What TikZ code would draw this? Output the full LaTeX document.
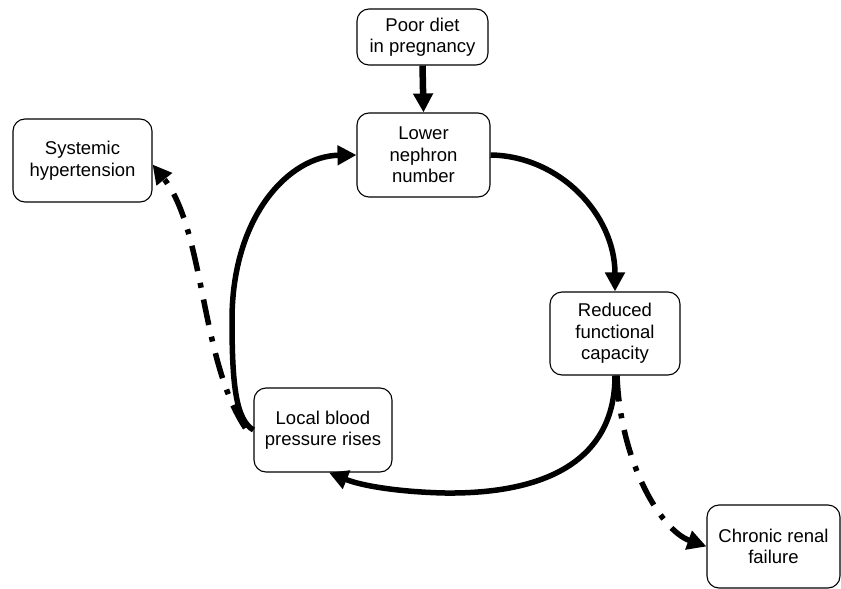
\documentclass[tikz,border=0pt]{standalone}
\usepackage{fontspec}
\setmainfont{Liberation Sans}
\usetikzlibrary{arrows.meta}
\begin{document}
\begin{tikzpicture}[x=1pt,y=-1pt,
  box/.style={draw, line width=1.1pt, rounded corners=12pt, align=center, inner sep=2pt,
    font=\fontsize{18.5}{21.5}\selectfont},
  flow/.style={line width=5.5pt, -{Triangle[length=19pt,width=19pt]}},
  dashdot/.style={line width=5.5pt, dash pattern=on 26pt off 12pt on 5pt off 12pt, -{Triangle[length=19pt,width=19pt]}}]
\useasboundingbox (0,0) rectangle (841,589);
\node[box, minimum width=131pt, minimum height=56pt] (poor) at (422.5,37) {Poor diet\\in pregnancy};
\node[box, minimum width=133pt, minimum height=84pt] (lower) at (423.5,155) {Lower\\nephron\\number};
\node[box, minimum width=139pt, minimum height=83pt] (sys) at (82.5,160.5) {Systemic\\hypertension};
\node[box, minimum width=138pt, minimum height=84pt] (local) at (323,430) {Local blood\\pressure rises};
\node[box, minimum width=130pt, minimum height=83pt] (red) at (615,333.5) {Reduced\\functional\\capacity};
\node[box, minimum width=133pt, minimum height=83pt] (crf) at (773.5,546.5) {Chronic renal\\failure};

\draw[flow, line width=6.5pt] (poor.south) -- (lower.north);
\draw[flow] (lower.east) .. controls (560,156) and (615,215) .. (red.north);
\draw[flow] (red.south) .. controls (615,470) and (530,494) .. (445,493)
  .. controls (400,492) and (362,486) .. ([xshift=6pt]local.south);
\draw[flow] (local.west) .. controls (236,420) and (232,385) .. (232,320)
  .. controls (232,215) and (290,156) .. (lower.west);
\draw[dashdot] ([xshift=-8pt,yshift=2pt]local.west) .. controls (200,360) and (205,230) .. ([yshift=-4pt]sys.east);
\draw[dashdot] ([xshift=2pt]red.south) .. controls (620,460) and (660,530) .. (crf.west);
\end{tikzpicture}
\end{document}
